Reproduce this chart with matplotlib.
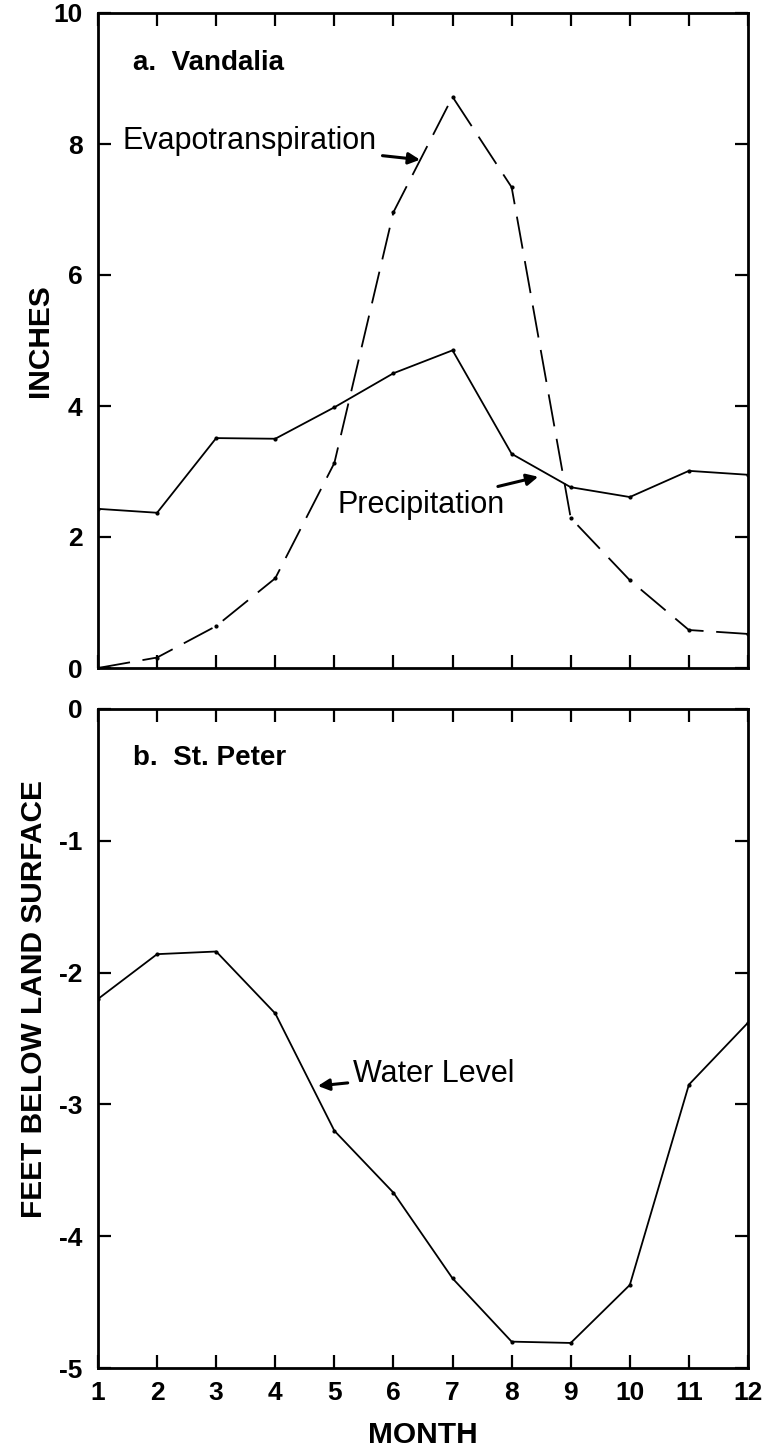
import matplotlib
matplotlib.use("Agg")
import matplotlib.pyplot as plt

plt.rcParams['font.family'] = ['Liberation Sans', 'DejaVu Sans']
plt.rcParams['axes.unicode_minus'] = False

# Monthly data
months = list(range(1, 13))
precipitation = [2.43, 2.37, 3.51, 3.50, 3.98, 4.50, 4.85, 3.27, 2.76, 2.61, 3.01, 2.95]
evapotranspiration = [0.0, 0.16, 0.64, 1.37, 3.13, 6.96, 8.72, 7.34, 2.29, 1.34, 0.58, 0.52]
water_level = [-2.20, -1.86, -1.84, -2.31, -3.20, -3.67, -4.32, -4.80, -4.81, -4.37, -2.85, -2.38]

inch_ticks = [0, 2, 4, 6, 8, 10]
feet_ticks = [0, -1, -2, -3, -4, -5]
month_labels = [str(m) for m in months]

W, H = 771, 1450
fig = plt.figure(figsize=(W / 100, H / 100), dpi=100)

left = 98 / W
width = 650 / W
ax1 = fig.add_axes([left, 1 - 668 / H, width, 655 / H])
ax2 = fig.add_axes([left, 1 - 1368 / H, width, 659 / H])

TICK_SIZE = 19
LABEL_SIZE = 21.5
NOTE_SIZE = 22


def style_axes(ax):
    for sp in ax.spines.values():
        sp.set_linewidth(2.0)
    ax.tick_params(axis='both', which='major', direction='in', length=9.5,
                   width=1.6, top=True, right=True, labelsize=TICK_SIZE)
    ax.tick_params(axis='y', pad=11)
    ax.tick_params(axis='x', pad=9)
    for lbl in ax.get_xticklabels() + ax.get_yticklabels():
        lbl.set_fontweight('bold')
    ax.set_xlim(1, 12)
    ax.set_xticks(months)


arrow = dict(arrowstyle='-|>', color='black', lw=2.2, mutation_scale=17,
             shrinkA=2, shrinkB=0)

# Panel a: precipitation and evapotranspiration
ax1.plot(months, precipitation, color='black', lw=1.3, marker='o', ms=2)
ax1.plot(months, evapotranspiration, color='black', lw=1.3, marker='o', ms=2,
         dashes=(18, 7))
ax1.set_ylim(0, 10)
ax1.set_yticks(inch_ticks)
ax1.set_xticklabels([])
ax1.set_ylabel('INCHES', fontsize=LABEL_SIZE, fontweight='bold')
ax1.yaxis.set_label_coords(-0.068, 0.5)
style_axes(ax1)

ax1.text(0.054, 0.923, 'a.  Vandalia', transform=ax1.transAxes,
         fontsize=20, fontweight='bold', va='center', ha='left')
ax1.annotate('Evapotranspiration', xy=(6.45, 7.76), xytext=(1.42, 8.04),
             fontsize=NOTE_SIZE, va='center', ha='left', arrowprops=arrow)
ax1.annotate('Precipitation', xy=(8.45, 2.92), xytext=(5.06, 2.49),
             fontsize=NOTE_SIZE, va='center', ha='left', arrowprops=arrow)

# Panel b: water level
ax2.plot(months, water_level, color='black', lw=1.3, marker='o', ms=2)
ax2.set_ylim(-5, 0)
ax2.set_yticks(feet_ticks)
ax2.set_xticklabels(month_labels)
ax2.set_ylabel('FEET BELOW LAND SURFACE', fontsize=LABEL_SIZE,
               fontweight='bold')
ax2.yaxis.set_label_coords(-0.077, 0.56)
ax2.set_xlabel('MONTH', fontsize=LABEL_SIZE, fontweight='bold', labelpad=12)
style_axes(ax2)

ax2.text(0.054, 0.925, 'b.  St. Peter', transform=ax2.transAxes,
         fontsize=20, fontweight='bold', va='center', ha='left')
ax2.annotate('Water Level', xy=(4.72, -2.86), xytext=(5.32, -2.77),
             fontsize=NOTE_SIZE, va='center', ha='left', arrowprops=arrow)

fig.savefig('out.png', dpi=100)
